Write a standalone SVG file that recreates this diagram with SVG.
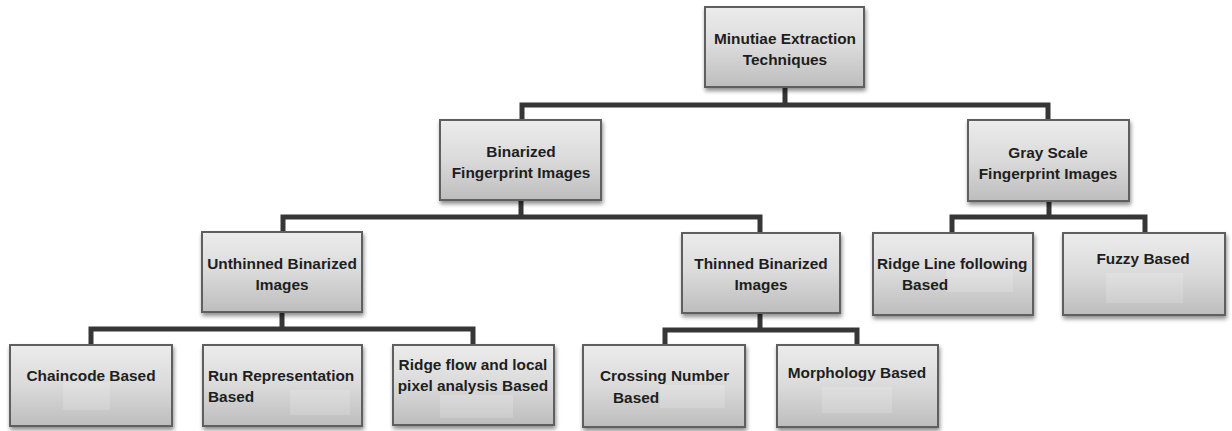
<svg xmlns="http://www.w3.org/2000/svg" width="1232" height="431" viewBox="0 0 1232 431">
  <defs>
    <linearGradient id="boxFill" x1="0" y1="0" x2="0" y2="1">
      <stop offset="0" stop-color="#ececec"/>
      <stop offset="0.5" stop-color="#dadada"/>
      <stop offset="1" stop-color="#bdbdbd"/>
    </linearGradient>
    <filter id="shadow" x="-10%" y="-10%" width="125%" height="130%">
      <feGaussianBlur in="SourceAlpha" stdDeviation="2"/>
      <feOffset dx="1" dy="3" result="blur"/>
      <feComponentTransfer><feFuncA type="linear" slope="0.45"/></feComponentTransfer>
      <feMerge><feMergeNode/><feMergeNode in="SourceGraphic"/></feMerge>
    </filter>
  </defs>
  <style>
    .box { fill: url(#boxFill); stroke: #5e5e5e; stroke-width: 2; filter: url(#shadow); }
    .patch { fill: #ffffff; opacity: 0.16; }
    .lbl { font-family: "Liberation Sans", Arial, sans-serif; font-size: 15.4px; font-weight: bold; fill: #1e1e1e; }
    .mid { text-anchor: middle; }
    .wire { fill: none; stroke: #363636; stroke-width: 5; stroke-linejoin: miter; stroke-linecap: butt; }
  </style>

  <rect width="1232" height="431" fill="#ffffff"/>

  <!-- connectors -->
  <g id="connectors">
    <path class="wire" d="M785 87 V105 M522 120 V105 H1048 V120"/>
    <path class="wire" d="M521 200 V217 M283 232 V217 H760 V232"/>
    <path class="wire" d="M1049 201 V217 M952 233 V217 H1145 V233"/>
    <path class="wire" d="M282 312 V329 M91 345 V329 H473 V345"/>
    <path class="wire" d="M760 313 V330 M665 345 V330 H857 V345"/>
  </g>

  <g id="root">
    <rect class="box" x="705" y="7" width="159" height="80"/>
    <text class="lbl mid" x="785" y="44">Minutiae Extraction</text>
    <text class="lbl mid" x="785" y="65">Techniques</text>
  </g>

  <g id="binarized">
    <rect class="box" x="440" y="120" width="161" height="80"/>
    <text class="lbl mid" x="521" y="157">Binarized</text>
    <text class="lbl mid" x="521" y="178">Fingerprint Images</text>
  </g>

  <g id="grayscale">
    <rect class="box" x="968" y="120" width="161" height="81"/>
    <text class="lbl mid" x="1048" y="158">Gray Scale</text>
    <text class="lbl mid" x="1048" y="179">Fingerprint Images</text>
  </g>

  <g id="unthinned">
    <rect class="box" x="202" y="232" width="160" height="80"/>
    <text class="lbl mid" x="282" y="269">Unthinned Binarized</text>
    <text class="lbl mid" x="282" y="290">Images</text>
  </g>

  <g id="thinned">
    <rect class="box" x="682" y="233" width="158" height="80"/>
    <text class="lbl mid" x="761" y="269">Thinned Binarized</text>
    <text class="lbl mid" x="761" y="290">Images</text>
  </g>

  <g id="ridgeline">
    <rect class="box" x="873" y="233" width="160" height="82"/>
    <rect class="patch" x="946" y="268" width="67" height="24"/>
    <text class="lbl" x="877" y="269">Ridge Line following</text>
    <text class="lbl" x="902" y="290">Based</text>
  </g>

  <g id="fuzzy">
    <rect class="box" x="1063" y="233" width="162" height="82"/>
    <rect class="patch" x="1106" y="273" width="77" height="30"/>
    <text class="lbl mid" x="1143" y="264">Fuzzy Based</text>
  </g>

  <g id="chaincode">
    <rect class="box" x="10" y="345" width="162" height="81"/>
    <rect class="patch" x="63" y="382" width="47" height="28"/>
    <text class="lbl mid" x="91" y="381">Chaincode Based</text>
  </g>

  <g id="runrep">
    <rect class="box" x="203" y="345" width="159" height="81"/>
    <rect class="patch" x="290" y="390" width="60" height="25"/>
    <text class="lbl" x="208" y="381">Run Representation</text>
    <text class="lbl" x="208" y="402">Based</text>
  </g>

  <g id="ridgeflow">
    <rect class="box" x="393" y="345" width="161" height="80"/>
    <rect class="patch" x="440" y="395" width="73" height="23"/>
    <text class="lbl mid" x="473" y="370">Ridge flow and local</text>
    <text class="lbl mid" x="473" y="391">pixel analysis Based</text>
  </g>

  <g id="crossing">
    <rect class="box" x="583" y="345" width="162" height="82"/>
    <rect class="patch" x="660" y="385" width="65" height="23"/>
    <text class="lbl" x="600" y="381">Crossing Number</text>
    <text class="lbl" x="613" y="403">Based</text>
  </g>

  <g id="morphology">
    <rect class="box" x="777" y="345" width="161" height="82"/>
    <rect class="patch" x="822" y="387" width="70" height="26"/>
    <text class="lbl mid" x="857" y="378">Morphology Based</text>
  </g>
</svg>
